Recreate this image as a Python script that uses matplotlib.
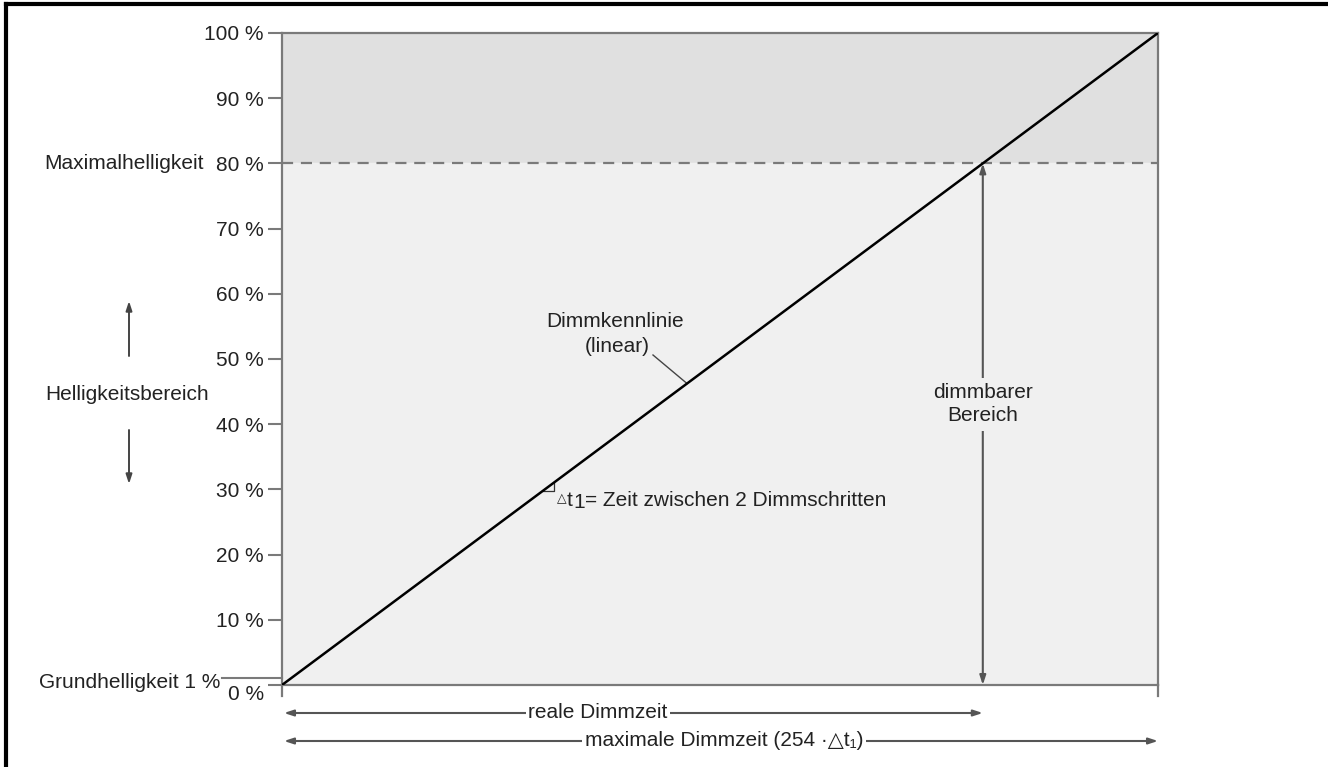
import matplotlib
matplotlib.use('Agg')
import matplotlib.pyplot as plt
from matplotlib.lines import Line2D

plt.rcParams['font.family'] = ['Liberation Sans', 'DejaVu Sans']

# ---------------- data ----------------
steps_max = 254                      # maximale Dimmzeit = 254 * dt1
brightness_ticks = [0, 10, 20, 30, 40, 50, 60, 70, 80, 90, 100]
tick_labels = ['', '10 %', '20 %', '30 %', '40 %', '50 %', '60 %', '70 %', '80 %', '90 %', '100 %']
curve_x = [0, 254]                   # Dimmkennlinie (linear)
curve_y = [0, 100]
grund_level = 1                      # Grundhelligkeit 1 %
max_level = 80                       # Maximalhelligkeit 80 %
real_end = steps_max * max_level / 100  # end of reale Dimmzeit

W, H = 1328, 767
FS = 15
GREY = '#7a7a7a'
TXT = '#222222'

fig = plt.figure(figsize=(W / 100, H / 100), dpi=100)
ax = fig.add_axes([282 / W, (H - 685) / H, 876 / W, 652 / H])
ax.set_xlim(0, steps_max)
ax.set_ylim(0, 100)

# pixel -> data helpers for annotation placement
def X(px):
    return (px - 282) / 876 * steps_max

def Y(py):
    return (685 - py) / 652 * 100

# background bands
ax.axhspan(max_level, 100, color='#e0e0e0', zorder=0)
ax.axhspan(0, max_level, color='#f0f0f0', zorder=0)
ax.axhline(max_level, color=GREY, lw=1.6, ls=(0, (5, 3.5)), zorder=1)

# characteristic line
ax.plot(curve_x, curve_y, color='black', lw=1.8, zorder=3)

# spines / ticks
for s in ['left', 'right', 'top', 'bottom']:
    ax.spines[s].set_color(GREY)
    ax.spines[s].set_linewidth(1.6)
ax.set_xticks([])
ax.set_yticks(brightness_ticks)
ax.set_yticklabels(tick_labels, fontsize=FS, color=TXT)
ax.tick_params(axis='y', length=10, width=1.5, color=GREY, pad=3)

# spine extensions below the base line
ax.plot([0, 0], [0, Y(696)], color=GREY, lw=1.6, clip_on=False)
ax.plot([steps_max, steps_max], [0, Y(696)], color=GREY, lw=1.6, clip_on=False)

# Grundhelligkeit line and labels
ax.plot([X(222), 0], [grund_level, grund_level], color=GREY, lw=1.5, clip_on=False)
ax.text(X(220), Y(683), 'Grundhelligkeit 1 %', fontsize=FS, ha='right', va='center', color=TXT)
ax.text(X(264), Y(694), '0 %', fontsize=FS, ha='right', va='center', color=TXT)
ax.text(X(204), max_level, 'Maximalhelligkeit', fontsize=FS, ha='right', va='center', color=TXT)

# Helligkeitsbereich with arrows
ax.text(X(127), Y(395), 'Helligkeitsbereich', fontsize=FS, ha='center', va='center', color=TXT)
arrow_kw = dict(arrowstyle='-|>,head_length=0.55,head_width=0.18', color='#444444', lw=1.4,
                shrinkA=0, shrinkB=0)
ax.annotate('', xy=(X(129), Y(301)), xytext=(X(129), Y(356)), arrowprops=arrow_kw, annotation_clip=False)
ax.annotate('', xy=(X(129), Y(484)), xytext=(X(129), Y(430)), arrowprops=arrow_kw, annotation_clip=False)

# dimmbarer Bereich
dbl_kw = dict(arrowstyle='<|-|>,head_length=0.55,head_width=0.18', color='#555555', lw=1.5,
              shrinkA=0, shrinkB=0)
ax.annotate('', xy=(real_end, max_level), xytext=(real_end, 0), arrowprops=dbl_kw, zorder=4)
ax.text(real_end, Y(404), 'dimmbarer\nBereich', fontsize=FS, ha='center', va='center', color=TXT,
        linespacing=1.25, zorder=5,
        bbox=dict(facecolor='#f0f0f0', edgecolor='none', pad=4))

# Dimmkennlinie label with leader
ax.text(X(615), Y(322), 'Dimmkennlinie', fontsize=FS, ha='center', va='center', color=TXT)
ax.text(X(617), Y(347), '(linear)', fontsize=FS, ha='center', va='center', color=TXT)
ax.plot([X(653), X(687)], [Y(355), Y(383.5)], color='#444444', lw=1.0)

# small step triangle on the line
x0 = X(543)
y0 = x0 / steps_max * 100
dx = X(554) - X(543)
ax.plot([x0, x0 + dx, x0 + dx], [y0, y0, y0 + dx / steps_max * 100], color='#333333', lw=0.9)
ax.text(X(562), Y(499), '△', fontsize=9, ha='center', va='center', family=['DejaVu Sans'], color=TXT)
ax.text(X(567), Y(500), 't', fontsize=FS, ha='left', va='center', color=TXT)
ax.text(X(573), Y(503), '1', fontsize=FS, ha='left', va='center', color=TXT)
ax.text(X(585), Y(500), '= Zeit zwischen 2 Dimmschritten', fontsize=FS, ha='left', va='center', color=TXT)

# time arrows below the axis
harr_kw = dict(arrowstyle='<|-|>,head_length=0.55,head_width=0.18', color='#555555', lw=1.5,
               shrinkA=0, shrinkB=0)
ax.annotate('', xy=(real_end, Y(713)), xytext=(X(284), Y(713)), arrowprops=harr_kw, annotation_clip=False)
ax.annotate('', xy=(steps_max, Y(741)), xytext=(X(284), Y(741)), arrowprops=harr_kw, annotation_clip=False)
ax.text(X(598), Y(713), 'reale Dimmzeit', fontsize=FS, ha='center', va='center', color=TXT,
        bbox=dict(facecolor='white', edgecolor='none', pad=2), zorder=5)
ax.text(X(724), Y(741), 'maximale Dimmzeit (254 ·△t₁)', fontsize=FS, ha='center', va='center',
        color=TXT, bbox=dict(facecolor='white', edgecolor='none', pad=2), zorder=5)

# outer frame (top and left)
fig.add_artist(Line2D([6 / W, 1], [1 - 4 / H, 1 - 4 / H], color='black', lw=3, transform=fig.transFigure))
fig.add_artist(Line2D([6 / W, 6 / W], [0, 1 - 4 / H], color='black', lw=3, transform=fig.transFigure))

fig.savefig('out.png', dpi=100, facecolor='white')
